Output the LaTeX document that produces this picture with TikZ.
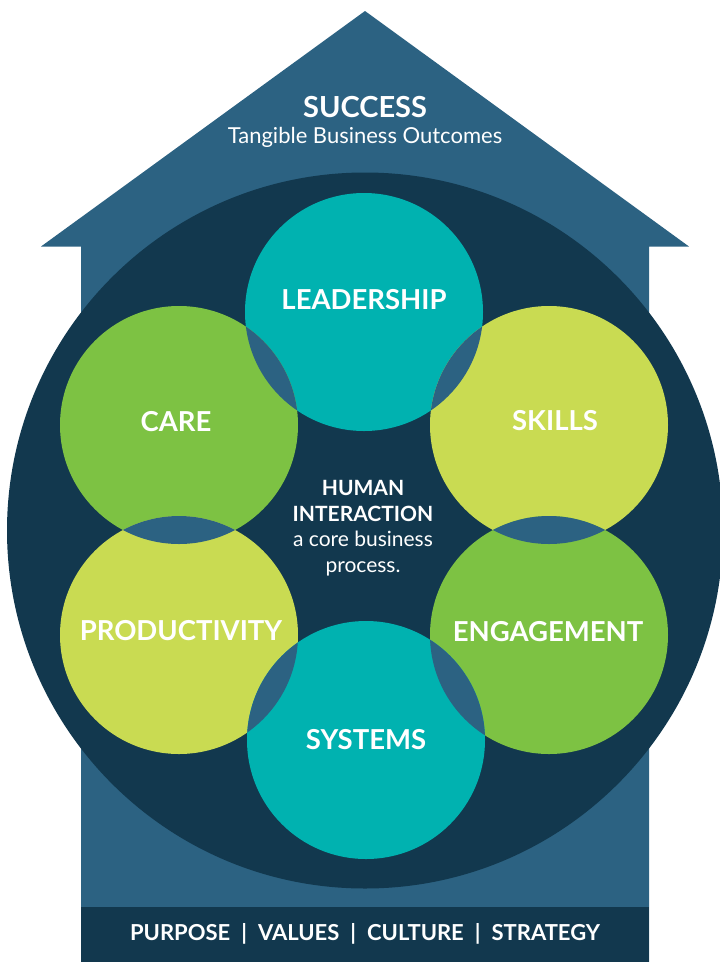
\documentclass[tikz,border=0pt]{standalone}
\usepackage{fontspec}
\setmainfont{Lato}
\usetikzlibrary{positioning}

\definecolor{houseblue}{HTML}{2C6282}
\definecolor{navy}{HTML}{12384E}
\definecolor{tealc}{HTML}{00B2B0}
\definecolor{greenc}{HTML}{7DC243}
\definecolor{limec}{HTML}{C9DB52}

\begin{document}
\begin{tikzpicture}[
                x=1pt, y=-1pt,
                ring/.style={
                        circle,
                        minimum size=238pt,
                        inner sep=0pt
                    },
                caption/.style={
                        text=white,
                        align=center,
                        inner sep=0pt,
                        font=\bfseries\fontsize{27.5}{30}\selectfont
                    },
                smalltext/.style={
                        text=white,
                        align=center,
                        inner sep=0pt,
                        font=\fontsize{22}{25}\selectfont
                    }
            ]

            \useasboundingbox (0,0) rectangle (720,962);

            % House
            \fill[houseblue] (365,11) -- (689,246.5) -- (649,246.5) -- (649,962)
                -- (81,962) -- (81,246.5) -- (41,246.5) -- cycle;
            \node[caption, font=\bfseries\fontsize{29}{30}\selectfont] (success) at (365,107) {SUCCESS};
            \node[smalltext, below=9pt of success] (outcomes) {Tangible Business Outcomes};

            % Big circle
            \node[circle, fill=navy, minimum size=716pt, inner sep=0pt] (hub) at (365,530.5) {};

            % Nodes with colors
            \node[ring, fill=tealc]  (lead)    at (364,312) {};
            \node[ring, fill=greenc] (care)    at (179,425) {};
            \node[ring, fill=limec]  (skills)  at (549,425) {};
            \node[ring, fill=limec]  (prod)    at (179,635) {};
            \node[ring, fill=greenc] (engage)  at (549,635) {};
            \node[ring, fill=tealc]  (systems) at (366,740) {};

            % Overlaps between the nodes
            \foreach \a/\b in {lead/skills, skills/engage, engage/systems,
                               systems/prod, prod/care, care/lead} {
                \begin{scope}
                    \clip (\a) circle (119pt);
                    \fill[houseblue] (\b) circle (119pt);
                \end{scope}
            }

            % Text inside the circles
            \node[caption] (leadtext)    at (364,300) {LEADERSHIP};
            \node[caption] (caretext)    at (176,422) {CARE};
            \node[caption] (skillstext)  at (555,421) {SKILLS};
            \node[caption] (prodtext)    at (181,631) {PRODUCTIVITY};
            \node[caption] (engagetext)  at (548,632) {ENGAGEMENT};
            \node[caption] (systemstext) at (366,740) {SYSTEMS};

            \node[smalltext, font=\fontsize{21}{25.5}\selectfont] (core) at (363,528)
                {\textbf{HUMAN}\\\textbf{INTERACTION}\\a core business\\process.};

            % Foundation bar
            \fill[navy] (81,907) rectangle (649,962);
            \node[smalltext, font=\bfseries\fontsize{22}{24}\selectfont] (found) at (365,934)
                {PURPOSE\enspace|\enspace VALUES\enspace|\enspace CULTURE\enspace|\enspace STRATEGY};

        \end{tikzpicture}
\end{document}
